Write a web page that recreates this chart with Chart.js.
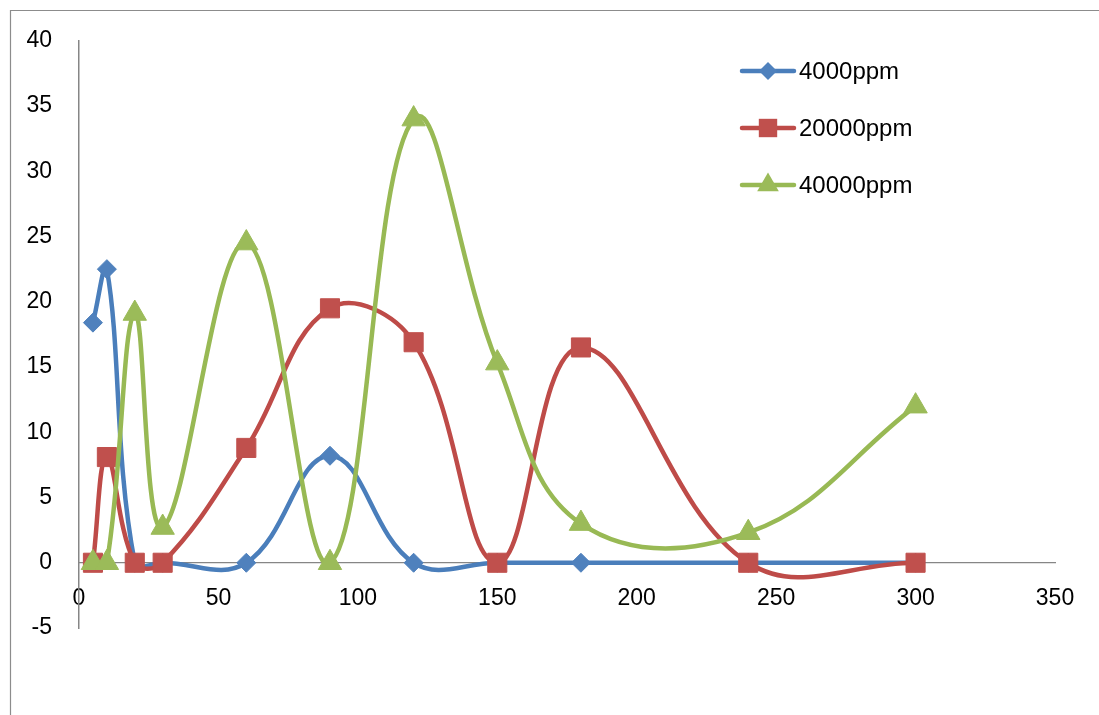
<!DOCTYPE html>
<html>
<head>
<meta charset="utf-8">
<script src="https://cdn.jsdelivr.net/npm/chart.js@4"></script>
<style>
html,body{margin:0;padding:0;background:#fff;}
#wrap{position:relative;width:1099px;height:715px;}
</style>
</head>
<body>
<div id="wrap"><canvas id="c" width="1099" height="715"></canvas></div>
<script>
const xValues = [5, 10, 20, 30, 60, 90, 120, 150, 180, 240, 300];
const s4000 = [18.4, 22.5, 0, 0, 0, 8.2, 0, 0, 0, 0, 0];
const s20000 = [0, 8.1, 0, 0, 8.8, 19.5, 16.9, 0, 16.5, 0, 0];
const s40000 = [0, 0, 19.1, 2.7, 24.5, 0, 34.0, 15.3, 3.0, 2.3, 12.0];
const seriesNames = ['4000ppm', '20000ppm', '40000ppm'];
const xTicks = [0, 50, 100, 150, 200, 250, 300, 350];
const yTicks = [-5, 0, 5, 10, 15, 20, 25, 30, 35, 40];

const FONT = '"Liberation Sans", Arial, sans-serif';
const toPts = arr => arr.map((v, i) => ({x: xValues[i], y: v}));

const styles = [
  {line: '#4A7EBB', fill: '#4F81BD', point: 'rectRot', r: 9.5},
  {line: '#BE4B48', fill: '#C0504D', point: 'rect', r: 13.5},
  {line: '#98B954', fill: '#9BBB59', point: 'triangle', r: 13.5}
];
const seriesData = [s4000, s20000, s40000];

const datasets = seriesData.map((d, i) => ({
  label: seriesNames[i],
  data: toPts(d),
  borderColor: styles[i].line,
  backgroundColor: styles[i].fill,
  borderWidth: 4.5,
  pointStyle: styles[i].point,
  pointRadius: styles[i].r,
  pointHoverRadius: styles[i].r,
  pointBackgroundColor: styles[i].fill,
  pointBorderColor: styles[i].fill,
  pointBorderWidth: 1,
  tension: 0.4,
  fill: false,
  order: 3 - i
}));

function drawMarker(ctx, style, x, y, r, color) {
  ctx.save();
  ctx.fillStyle = color;
  ctx.beginPath();
  if (style === 'rectRot') {
    ctx.moveTo(x - r, y); ctx.lineTo(x, y - r); ctx.lineTo(x + r, y); ctx.lineTo(x, y + r);
  } else if (style === 'rect') {
    const s = r * Math.SQRT1_2;
    ctx.rect(x - s, y - s, 2 * s, 2 * s);
  } else {
    const a = 2 * Math.PI / 3;
    ctx.moveTo(x, y - r);
    ctx.lineTo(x + Math.sin(a) * r, y - Math.cos(a) * r);
    ctx.lineTo(x + Math.sin(2 * a) * r, y - Math.cos(2 * a) * r);
  }
  ctx.closePath();
  ctx.fill();
  ctx.restore();
}

const framePlugin = {
  id: 'frame',
  beforeDraw(chart) {
    const ctx = chart.ctx;
    ctx.save();
    ctx.fillStyle = '#fff';
    ctx.fillRect(0, 0, chart.width, chart.height);
    ctx.strokeStyle = '#8c8c8c';
    ctx.lineWidth = 1.2;
    ctx.beginPath();
    ctx.moveTo(10.5, chart.height + 5);
    ctx.lineTo(10.5, 10.5);
    ctx.lineTo(chart.width + 5, 10.5);
    ctx.stroke();
    ctx.restore();
  },
  afterDraw(chart) {
    const ctx = chart.ctx;
    const rows = [71, 128, 185];
    ctx.save();
    chart.data.datasets.forEach((ds, i) => {
      const y = rows[i];
      ctx.strokeStyle = styles[i].line;
      ctx.lineWidth = 4.5;
      ctx.lineCap = 'round';
      ctx.beginPath();
      ctx.moveTo(742, y);
      ctx.lineTo(794, y);
      ctx.stroke();
      const mr = styles[i].point === 'rectRot' ? 9 : (styles[i].point === 'rect' ? 13 : 12.5);
      drawMarker(ctx, styles[i].point, 768, y, mr, styles[i].fill);
      ctx.fillStyle = '#000';
      ctx.font = '24px ' + FONT;
      ctx.textBaseline = 'middle';
      ctx.textAlign = 'left';
      ctx.fillText(ds.label, 799, y + 1);
    });
    ctx.restore();
  }
};

new Chart(document.getElementById('c'), {
  type: 'line',
  data: {datasets},
  plugins: [framePlugin],
  options: {
    responsive: false,
    animation: false,
    events: [],
    layout: {padding: {left: 0, top: 39, right: 44, bottom: 87}},
    plugins: {legend: {display: false}, tooltip: {enabled: false}},
    elements: {line: {capBezierPoints: false}},
    scales: {
      x: {
        type: 'linear',
        position: {y: 0},
        min: 0, max: 350,
        afterBuildTicks: s => { s.ticks = xTicks.map(v => ({value: v})); },
        grid: {display: true, color: 'transparent', drawTicks: false},
        border: {display: true, color: '#868686', width: 1.2},
        ticks: {color: '#000', font: {family: FONT, size: 23}, padding: 22, maxRotation: 0, autoSkip: false}
      },
      y: {
        type: 'linear',
        min: -5, max: 40,
        afterBuildTicks: s => { s.ticks = yTicks.map(v => ({value: v})); },
        afterFit: s => { s.width = 79; },
        grid: {display: true, color: 'transparent', drawTicks: false},
        border: {display: true, color: '#868686', width: 1.5},
        ticks: {color: '#000', font: {family: FONT, size: 23}, padding: 27, autoSkip: false}
      }
    }
  }
});
</script>
</body>
</html>
